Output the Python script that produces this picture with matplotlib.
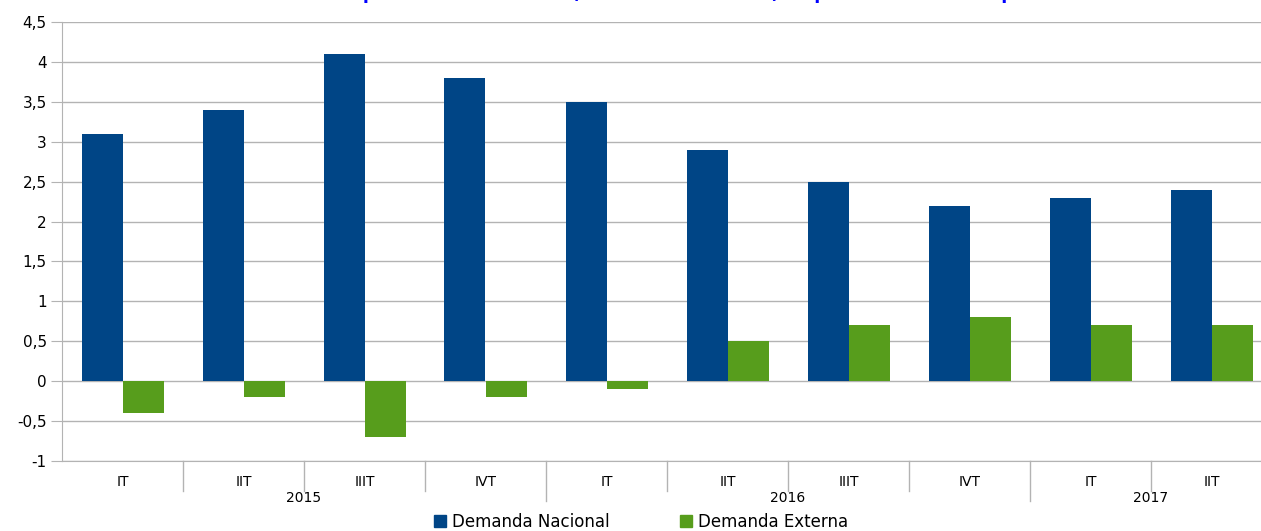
import matplotlib
matplotlib.use("Agg")
import matplotlib.pyplot as plt
import matplotlib.transforms as mtransforms
from matplotlib.patches import Patch
from matplotlib.ticker import FuncFormatter

plt.rcParams['font.family'] = ['DejaVu Sans']

quarters = ["IT", "IIT", "IIIT", "IVT", "IT", "IIT", "IIIT", "IVT", "IT", "IIT"]
years = ["2015", "2016", "2017"]
year_sizes = [4, 4, 2]
nacional = [3.1, 3.4, 4.1, 3.8, 3.5, 2.9, 2.5, 2.2, 2.3, 2.4]
externa = [-0.4, -0.2, -0.7, -0.2, -0.1, 0.5, 0.7, 0.8, 0.7, 0.7]
yticks = [-1, -0.5, 0, 0.5, 1, 1.5, 2, 2.5, 3, 3.5, 4, 4.5]
title = "Aportes al crecimiento (variación interanual) en puntos del PIB real por trimestre"

blue = "#004586"
green = "#579d1c"
grid = "#b3b3b3"

W, H = 1261, 531
fig = plt.figure(figsize=(W / 100, H / 100), dpi=100)
ax = fig.add_axes([62 / W, 1 - 461 / H, 1210 / W, (461 - 22) / H])

x = list(range(len(quarters)))
bw = 41 / 121
ax.bar([i - bw / 2 for i in x], nacional, width=bw, color=blue, zorder=3)
ax.bar([i + bw / 2 for i in x], externa, width=bw, color=green, zorder=3)

ax.set_xlim(-0.5, len(quarters) - 0.5)
ax.set_ylim(-1, 4.5)
ax.set_yticks(yticks)
ax.yaxis.set_major_formatter(FuncFormatter(lambda v, p: ("%g" % v).replace(".", ",")))
ax.tick_params(axis="y", length=8, color=grid, labelsize=11, pad=3)
ax.yaxis.grid(True, color=grid, linewidth=1)
ax.set_axisbelow(True)

for s in ["top", "right"]:
    ax.spines[s].set_visible(False)
ax.spines["left"].set_color(grid)
ax.spines["bottom"].set_color(grid)

ax.set_xticks([])
trans = mtransforms.blended_transform_factory(ax.transData, ax.transAxes)
axh = (461 - 22)

# quarter labels and separators
for i, q in enumerate(quarters):
    ax.text(i, -21 / axh, q, transform=trans, ha="center", va="center", fontsize=10)
bounds = [-0.5]
for n in year_sizes:
    bounds.append(bounds[-1] + n)
for k in range(1, len(quarters)):
    pos = k - 0.5
    low = -40 / axh if pos in bounds else -30 / axh
    ax.plot([pos, pos], [0, low], transform=trans, color=grid, lw=1, clip_on=False)

for yr, a, b in zip(years, bounds[:-1], bounds[1:]):
    ax.text((a + b) / 2, -37 / axh, yr, transform=trans, ha="center", va="center", fontsize=10)

fig.text(350 / W, 1 + 0.8 / H, title, ha="left", va="baseline", fontsize=12.2,
         fontweight="bold", color="blue")

handles = [Patch(color=blue, label="Demanda Nacional"), Patch(color=green, label="Demanda Externa")]
fig.legend(handles=handles, loc="center", bbox_to_anchor=(641 / W, 9 / H), ncol=2,
           frameon=False, fontsize=12, handlelength=0.75, handleheight=0.75,
           handletextpad=0.35, columnspacing=4.2, borderpad=0)

fig.savefig("out.png", dpi=100)
